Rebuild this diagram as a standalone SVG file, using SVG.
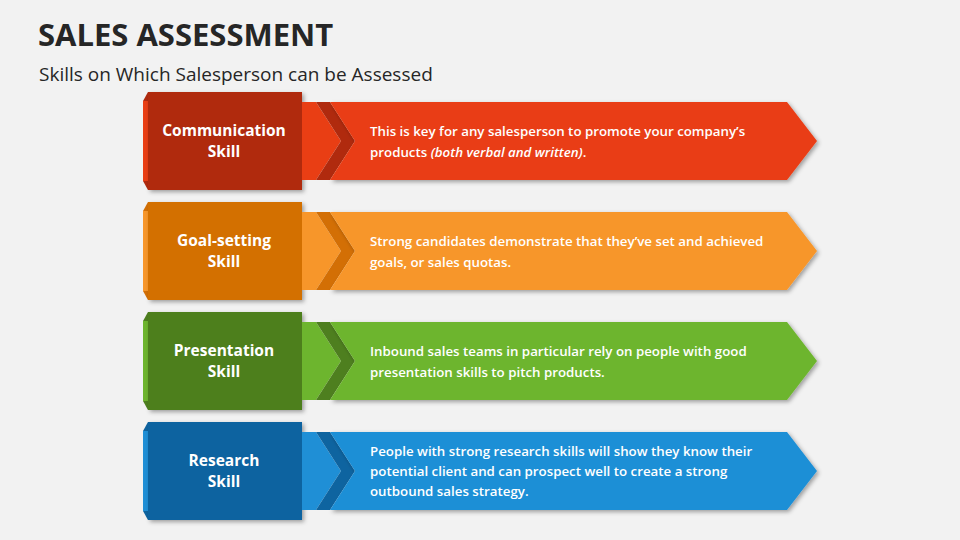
<svg xmlns="http://www.w3.org/2000/svg" width="960" height="540" viewBox="0 0 960 540">
<defs>
<filter id="sh" x="-5%" y="-10%" width="115%" height="130%"><feDropShadow dx="2" dy="2" stdDeviation="2" flood-color="#000" flood-opacity="0.35"/></filter>
<g id="row">
<rect fill="currentColor" x="143" y="101" width="8" height="80"/>
<polygon points="143,101 148,92 148,101"/>
<polygon points="143,181 148,190 148,181"/>
<rect x="148" y="92" width="154" height="98" filter="url(#sh)"/>
<polygon fill="currentColor" points="302,102 316,102 341,141 316,180 302,180"/>
<polygon points="316,102 330,102 355,141 330,180 316,180 341,141"/>
<polygon fill="currentColor" points="330,102 787,102 817,141 787,180 330,180 355,141" filter="url(#sh)"/>
</g>
</defs>
<style>
.t{font-family:"Open Sans","Liberation Sans",sans-serif;fill:#fff;font-size:13.3px;font-weight:600}
.b{font-family:"Open Sans","Liberation Sans",sans-serif;fill:#fff;font-size:15.5px;font-weight:700;text-anchor:middle}
</style>
<rect width="960" height="540" fill="#F2F2F2"/>
<text x="38" y="46" font-family="'Open Sans','Liberation Sans',sans-serif" font-weight="700" font-size="31" fill="#262626">SALES ASSESSMENT</text>
<text x="39" y="81" font-family="'Open Sans','Liberation Sans',sans-serif" font-size="19" fill="#262626">Skills on Which Salesperson can be Assessed</text>
<g id="connectors"></g>
<g id="r1"><use href="#row" fill="#B02A0E" color="#E93E14"/>
<text class="b" x="224" y="136">Communication</text><text class="b" x="224" y="157">Skill</text>
<text class="t" x="370" y="136">This is key for any salesperson to promote your company’s</text>
<text class="t" x="370" y="157">products <tspan font-style="italic">(both verbal and written)</tspan>.</text></g>
<g id="r2" transform="translate(0,110)"><use href="#row" fill="#D36F05" color="#F7962A"/>
<text class="b" x="224" y="136">Goal-setting</text><text class="b" x="224" y="157">Skill</text>
<text class="t" x="370" y="136">Strong candidates demonstrate that they’ve set and achieved</text>
<text class="t" x="370" y="157">goals, or sales quotas.</text></g>
<g id="r3" transform="translate(0,220)"><use href="#row" fill="#4E7F1F" color="#6DB52E"/>
<text class="b" x="224" y="136">Presentation</text><text class="b" x="224" y="157">Skill</text>
<text class="t" x="370" y="136">Inbound sales teams in particular rely on people with good</text>
<text class="t" x="370" y="157">presentation skills to pitch products.</text></g>
<g id="r4" transform="translate(0,330)"><use href="#row" fill="#0E64A0" color="#1F8FD6"/>
<text class="b" x="224" y="136">Research</text><text class="b" x="224" y="157">Skill</text>
<text class="t" x="370" y="126">People with strong research skills will show they know their</text>
<text class="t" x="370" y="146">potential client and can prospect well to create a strong</text>
<text class="t" x="370" y="166">outbound sales strategy.</text></g>
</svg>
